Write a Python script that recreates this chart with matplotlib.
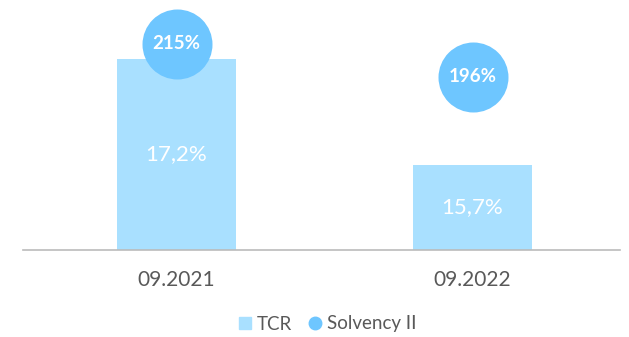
import matplotlib.pyplot as plt

plt.rcParams['font.family'] = ['Lato', 'DejaVu Sans']

periods = ['09.2021', '09.2022']
tcr = [17.2, 15.7]
solvency = [215, 196]

bar_color = '#a9e0ff'
dot_color = '#6ec6ff'
text_grey = '#595959'

fig = plt.figure(figsize=(6.29, 3.37), dpi=100)
ax = fig.add_axes([23 / 629, 87.5 / 337, 597 / 629, 249.5 / 337])
x = range(len(periods))

bars = ax.bar(x, tcr, width=0.402, color=bar_color, zorder=1)
for b, v in zip(bars, tcr):
    ax.text(b.get_x() + b.get_width() / 2, (b.get_height() + 14.5) / 2,
            f'{v:.1f}%'.replace('.', ','), ha='center', va='center',
            color='white', fontsize=16)
ax.set_ylim(14.5, 18.03)
ax.set_xlim(-0.5186, 1.498)
ax.set_yticks([])
ax.set_xticks(list(x))
ax.set_xticklabels(periods, fontsize=15, color=text_grey)
ax.tick_params(axis='x', length=0, pad=15)
for s in ['top', 'right', 'left']:
    ax.spines[s].set_visible(False)
ax.spines['bottom'].set_color('#bbbbbb')
ax.spines['bottom'].set_linewidth(1.2)

# Solvency II ratios on their own scale
ax2 = ax.twinx()
ax2.scatter(x, solvency, s=2540, color=dot_color, zorder=3, linewidths=0)
for i, v in zip(x, solvency):
    ax2.text(i, v, f'{v}%', ha='center', va='center', color='white',
             fontsize=13.5, fontweight='bold', zorder=4)
ax2.set_ylim(96.7, 240.1)
ax2.set_yticks([])
for s in ax2.spines.values():
    s.set_visible(False)

h1 = plt.Line2D([], [], marker='s', linestyle='', color=bar_color, markersize=9)
h2 = plt.Line2D([], [], marker='o', linestyle='', color=dot_color, markersize=9)
fig.legend([h1, h2], ['TCR', 'Solvency II'], loc='center', bbox_to_anchor=(326 / 629, 1 - 324 / 337),
           ncol=2, frameon=False, fontsize=13.5, labelcolor=text_grey,
           handletextpad=0.15, columnspacing=0.7, handlelength=1.0)

fig.savefig('out.png', dpi=100)
